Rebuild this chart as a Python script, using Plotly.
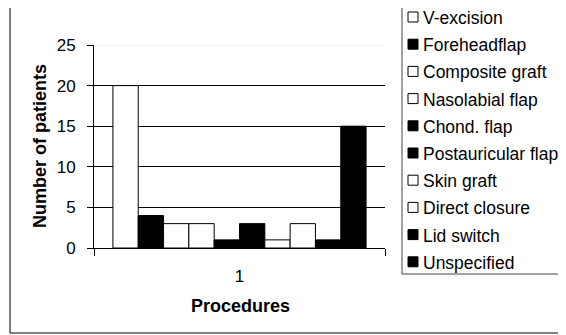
import plotly.graph_objects as go

categories = ["1"]
procedures = ["V-excision", "Foreheadflap", "Composite graft", "Nasolabial flap",
              "Chond. flap", "Postauricular flap", "Skin graft", "Direct closure",
              "Lid switch", "Unspecified"]
patients = [20, 4, 3, 3, 1, 3, 1, 3, 1, 15]
fills = ["white", "black", "white", "white", "black", "black", "white", "white", "black", "black"]
y_ticks = [0, 5, 10, 15, 20, 25]

# the page body has an 8px default margin; the figure is sized to fill the rest
OFF = 8
W, H = 566 - OFF, 335 - OFF
# plot area in window pixels
L, R, T, B = 94, 385, 45, 248

def px(x):
    return (x - L) / (R - L)

def py(y):
    return (B - y) / (B - T)

font = "Arial, Liberation Sans, sans-serif"

fig = go.Figure()
for name, val, col in zip(procedures, patients, fills):
    fig.add_trace(go.Bar(
        x=categories, y=[val], name=name,
        marker=dict(color=col, line=dict(color="black", width=1)),
    ))

shapes = [
    dict(type="line", xref="paper", yref="paper", x0=px(10), x1=px(10), y0=py(7), y1=py(333),
         line=dict(color="black", width=1)),
    dict(type="line", xref="paper", yref="paper", x0=px(10), x1=px(570), y0=py(333), y1=py(333),
         line=dict(color="black", width=1)),
    dict(type="line", xref="paper", yref="y", x0=0, x1=1, y0=25, y1=25,
         line=dict(color="#e6e6e6", width=1), layer="below"),
    dict(type="rect", xref="paper", yref="paper", x0=px(402), x1=px(580), y0=py(-5), y1=py(274),
         fillcolor="white", line=dict(color="#444444", width=1)),
]
annotations = []
row0, step = 17, 27.2
for i, (name, col) in enumerate(zip(procedures, fills)):
    cy = row0 + i * step
    shapes.append(dict(type="rect", xref="paper", yref="paper",
                       x0=px(408), x1=px(418), y0=py(cy - 5), y1=py(cy + 5),
                       fillcolor=col, line=dict(color="black", width=1)))
    annotations.append(dict(text=name, xref="paper", yref="paper", x=px(421), y=py(cy + 1),
                            xanchor="left", yanchor="middle", showarrow=False,
                            font=dict(family=font, size=17.5, color="black")))

annotations.append(dict(text="<b>Procedures</b>", xref="paper", yref="paper",
                        x=px(240), y=py(306), xanchor="center", yanchor="middle",
                        showarrow=False, font=dict(family=font, size=18, color="black")))
annotations.append(dict(text="<b>Number of patients</b>", xref="paper", yref="paper",
                        x=px(40), y=py(146), xanchor="center", yanchor="middle", textangle=-90,
                        showarrow=False, font=dict(family=font, size=18, color="black")))

fig.update_layout(
    width=W, height=H,
    margin=dict(l=L - OFF, r=566 - R, t=T - OFF, b=335 - B),
    paper_bgcolor="white", plot_bgcolor="white",
    barmode="group", bargap=0.13, bargroupgap=0,
    font=dict(family=font, size=17, color="black"),
    showlegend=False,
    xaxis=dict(
        type="category", showline=True, linecolor="black", linewidth=1,
        ticks="outside", tickson="boundaries", ticklen=7, tickcolor="black",
        showgrid=False, automargin=False, tickfont=dict(size=17),
        ticklabelstandoff=13,
    ),
    yaxis=dict(
        range=[0, 25], tickvals=y_ticks, showline=True, linecolor="black", linewidth=1,
        ticks="outside", ticklen=6, tickcolor="black",
        showgrid=True, gridcolor="black", gridwidth=1, zeroline=False,
        automargin=False, tickfont=dict(size=17), ticklabelstandoff=8,
    ),
    shapes=shapes,
    annotations=annotations,
)

fig.write_html("out.html")
